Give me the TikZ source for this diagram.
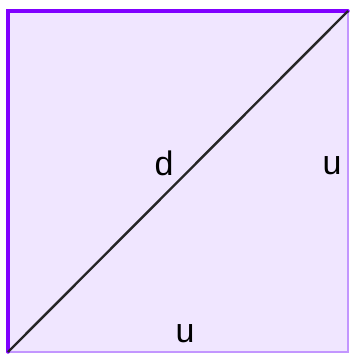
\documentclass[tikz,border=0pt]{standalone}
\usepackage{fontspec}
\setmainfont{Liberation Sans}
\definecolor{SquareFill}{RGB}{240,230,255}
\definecolor{EdgeViolet}{RGB}{128,0,255}
\definecolor{EdgeLight}{RGB}{195,150,255}
\usetikzlibrary{calc}
\tikzset{
  thickedge/.style={draw=EdgeViolet,line width=3.4pt,line cap=round},
  thinedge/.style={draw=EdgeLight,line width=1.8pt},
  diag/.style={draw=black!85,line width=2.4pt},
  lbl/.style={font=\fontsize{34}{40}\selectfont,anchor=base,inner sep=0pt},
}
\begin{document}
\begin{tikzpicture}[x=1pt,y=1pt]
      \useasboundingbox (0,0) rectangle (350,354);
      \coordinate (bl) at (8,2);
      \coordinate (br) at (348,2);
      \coordinate (tr) at (348,343);
      \coordinate (tl) at (8,343);
      \fill[SquareFill] (bl) rectangle (tr);
      \draw[thinedge] (tl) -- (tr) -- (br) -- (bl);
      \draw[thickedge] (bl) -- (tl) -- (tr);
      \draw[diag] (bl) -- (tr);
      \node[lbl] (d) at (164,178) {d};
      \node[lbl] (uright) at (332,179) {u};
      \node[lbl] (ubottom) at (185,11) {u};
    \end{tikzpicture}
\end{document}
